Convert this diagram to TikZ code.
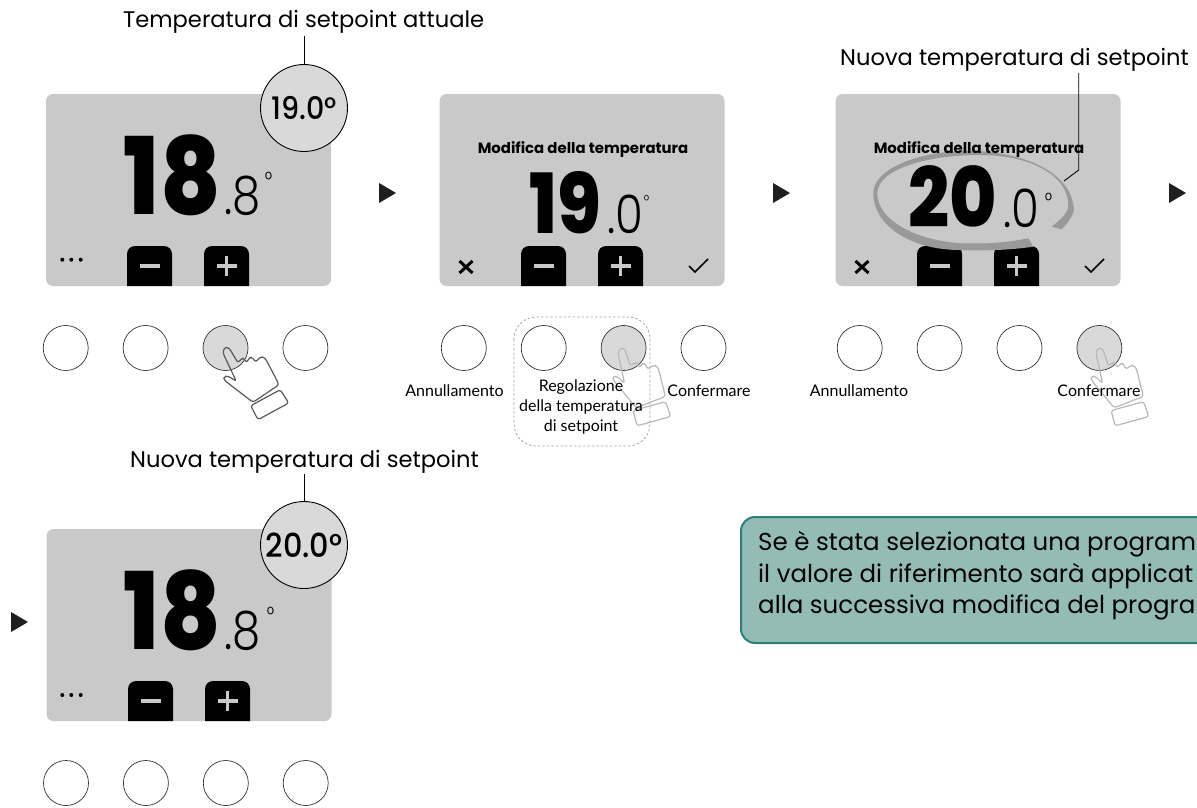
\documentclass[tikz,border=0pt]{standalone}
\usepackage{fontspec}
\setmainfont{Poppins}
\newfontfamily\labelfont{Lato}
\newfontfamily\lightfont{Poppins}[UprightFont=* Light, FakeStretch=0.85]
\newfontfamily\blackfont{Poppins}[UprightFont=* ExtraBold, FakeStretch=0.87]
\newfontfamily\bubblefont{Poppins}[UprightFont=* Medium, FakeStretch=0.92]
\usetikzlibrary{positioning}
\definecolor{screengray}{HTML}{C9C9C9}
\definecolor{pressgray}{HTML}{D9D9D9}
\definecolor{swooshgray}{HTML}{999999}
\definecolor{notefill}{HTML}{93BCB6}
\definecolor{noteline}{HTML}{2E7F74}
\tikzset{x=1pt, y=-1pt, % One unit is one pixel of the page, y runs down
node distance=34.9pt, % Gap between two neighbouring keys
keyring/.style={ % The round keys below each screen
circle, draw=black!80, line width=0.7pt, minimum size=45pt, inner sep=0pt, outer sep=0pt},
pressed/.style={fill=pressgray},
screen/.style={ % The grey display
fill=screengray, rounded corners=7pt, minimum width=285pt, minimum height=192pt, inner sep=0pt},
bubble/.style={circle, draw=black, fill=pressgray, line width=0.9pt, minimum size=87pt, inner sep=0pt, text depth=0pt},
caption/.style={anchor=base west, inner sep=0pt, font=\fontsize{22.6}{22.6}\selectfont},
title/.style={anchor=base, inner sep=0pt, font=\bfseries\fontsize{14.9}{14.9}\selectfont},
small/.style={inner sep=0pt, align=center, font=\labelfont\fontsize{16}{20}\selectfont},
bignum/.style={anchor=base east, inner sep=0pt, font=\blackfont\fontsize{107}{107}\selectfont},
midnum/.style={anchor=base east, inner sep=0pt, font=\blackfont\fontsize{83}{83}\selectfont},
lightnum/.style={anchor=base west, inner sep=0pt, font=\lightfont\fontsize{53}{53}\selectfont},
leader/.style={draw=black, line width=0.9pt},
next/.style={fill=black!88},
softkey/.pic={ % Drawn from its lower left corner
\fill (0,0) -- (0,-32) arc[start angle=180, end angle=270, radius=8] -- (37,-40) arc[start angle=270, end angle=360, radius=8] -- (45,0) -- cycle;
\fill[screengray] (12.5,-21.8) rectangle (32.5,-18.2);
},
plusbar/.pic={\fill[screengray] (-1.8,-10) rectangle (1.8,10);},
hand/.pic={ % Drawn from the tip of the finger
\draw[pic actions, line width=1.2pt, rounded corners=2.5pt, line join=round]
(-4,5) -- (-3,0) -- (1,-1) -- (4,3) -- (11,15) -- (14,11) -- (17,10) -- (19.5,15) -- (22,10) -- (25,9) -- (28.7,14.3) -- (33,9) -- (37,9) -- (40,13.3) -- (52,36.7) -- (26,54.3) -- (-3,32) -- (-3,28.5) -- (1,28) -- (9.3,33.3) -- cycle;
\draw[pic actions, line width=1.2pt, rounded corners=2.5pt]
(23.7,57.7) -- (53.3,41.7) -- (61.7,55) -- (31,71.7) -- cycle;
}}

\begin{document}
\begin{tikzpicture}
    \useasboundingbox (0,0) rectangle (1197,808);
    % Screens
    \node[screen] (s1) at (188.5,190) {};
    \node[screen] (s2) at (582,190) {};
    \node[screen] (s3) at (978,190) {};
    \node[screen] (s4) at (189,625) {};
    % Soft keys
    \foreach \sx/\sy in {127/286,204/286,521/286,598/286,917/286,994/286,128/721,205/721}
        \pic at (\sx,\sy) {softkey};
    \foreach \px/\py in {226.5/266,620.5/266,1016.5/266,227.5/701}
        \pic at (\px,\py) {plusbar};
    % Keys
    \node[keyring] (k1a) at (65.7,348) {};
    \node[keyring, right=of k1a] (k1b) {};
    \node[keyring, pressed, right=of k1b] (k1c) {};
    \node[keyring, right=of k1c] (k1d) {};
    \node[keyring] (k2a) at (463.8,348) {};
    \node[keyring, right=of k2a] (k2b) {};
    \node[keyring, pressed, right=of k2b] (k2c) {};
    \node[keyring, right=of k2c] (k2d) {};
    \node[keyring] (k3a) at (859.7,348) {};
    \node[keyring, right=of k3a] (k3b) {};
    \node[keyring, right=of k3b] (k3c) {};
    \node[keyring, pressed, right=of k3c] (k3d) {};
    \node[keyring] (k4a) at (66,783) {};
    \node[keyring, right=of k4a] (k4b) {};
    \node[keyring, right=of k4b] (k4c) {};
    \node[keyring, right=of k4c] (k4d) {};
    % Hands
    \pic[draw=black!65] at (227,348) {hand};
    \pic[draw=black!28, rotate=-13] at (623,349) {hand};
    \pic[draw=black!28, rotate=-13] at (1101,349) {hand};
    % Dashed group
    \draw[draw=black!35, dash pattern=on 2.5pt off 2pt, line width=0.8pt, rounded corners=22pt] (514,317) rectangle (650,446);
    % Screen one
    \node[bignum] (n1) at (221,214) {18};
    \node[lightnum, right=3.5pt of n1.base east, anchor=base west] (d1) {.8};
    \node[inner sep=0pt, font=\lightfont\fontsize{22}{22}\selectfont, anchor=north] (g1) at (268.5,172) {°};
    \foreach \dx in {62.3,71.3,80.7} \fill (\dx,259.7) circle (2);
    % Screen two
    \node[title] (t2) at (583,153) {Modifica della temperatura};
    \node[midnum] (n2) at (601.5,233) {19};
    \node[lightnum, right=6pt of n2.base east, anchor=base west] (d2) {.0};
    \node[inner sep=0pt, font=\lightfont\fontsize{16}{16}\selectfont, anchor=north] (g2) at (646.5,195) {°};
    % Screen three
    \fill[swooshgray] (1061.7,229.3) .. controls (1070,220) and (1076,212) .. (1073.3,205) .. controls (1068,170) and (1020,150.7) .. (965,150.7) .. controls (915,152) and (873.3,170) .. (873.3,193.3) .. controls (873.3,225) and (910,250) .. (960,250) .. controls (985,251) and (1010,250) .. (1033.3,246.7) -- (1028.3,238.3) .. controls (1005,243) and (985,244) .. (960,243.3) .. controls (915,240) and (877.3,220) .. (877.3,193.3) .. controls (877.3,170) and (925,155) .. (980,155) .. controls (1030,155) and (1068,175) .. (1068.3,205) .. controls (1068.5,213) and (1060,220) .. (1051.7,226.7) -- cycle;
    \node[title] (t3) at (979,153) {Modifica della temperatura};
    \node[midnum] (n3) at (997,227) {20};
    \node[lightnum, right=6pt of n3.base east, anchor=base west] (d3) {.0};
    \node[inner sep=0pt, font=\lightfont\fontsize{22}{22}\selectfont, anchor=north] (g3) at (1048.5,193) {°};
    % Screen four
    \node[bignum] (n4) at (221,649) {18};
    \node[lightnum, right=3.5pt of n4.base east, anchor=base west] (d4) {.8};
    \node[inner sep=0pt, font=\lightfont\fontsize{22}{22}\selectfont, anchor=north] (g4) at (270.5,607) {°};
    \foreach \dx in {62.3,71.3,80.7} \fill (\dx,695) circle (2);
    % Cross and tick
    \foreach \cx in {466,862} {
        \draw[line width=3pt] (\cx-6.5,261) -- (\cx+6.5,273);
        \draw[line width=3pt] (\cx-6.5,273) -- (\cx+6.5,261);
    }
    \foreach \tx in {698,1094}
        \draw[line width=1.5pt] (\tx-9,266) -- (\tx-3,272) -- (\tx+10,259);
    % Bubbles
    \node[bubble, font=\bubblefont\fontsize{31}{31}\selectfont] (b1) at (304,108) {19.0°};
    \node[bubble, font=\bubblefont\fontsize{33}{33}\selectfont] (b4) at (304,545) {20.0°};
    % Captions
    \node[caption] (c1) at (123,28) {Temperatura di setpoint attuale};
    \node[caption] (c3) at (840,66) {Nuova temperatura di setpoint};
    \node[caption] (c4) at (130,467) {Nuova temperatura di setpoint};
    \coordinate (p1) at (304,36);
    \coordinate (p3) at (1078.7,73);
    \coordinate (q3) at (1078.7,170);
    \coordinate (r3) at (1064,181);
    \coordinate (p4) at (304,474);
    \draw[leader] (p1) -- (b1);
    \draw[leader] (p4) -- (b4);
    \draw[leader] (p3) -- (q3) -- (r3);
    % Key labels
    \node[small] (l2a) at (454.5,391) {Annullamento};
    \node[small, anchor=north] (l2b) at (581,380) {Regolazione\\della temperatura\\di setpoint};
    \node[small] (l2d) at (709,391) {Confermare};
    \node[small] (l3a) at (859,391) {Annullamento};
    \node[small] (l3d) at (1099,391) {Confermare};
    % Arrows
    \fill[next] (379,183) -- (396,193) -- (379,203) -- cycle;
    \fill[next] (773,183) -- (790,193) -- (773,203) -- cycle;
    \fill[next] (1169,183) -- (1186,193) -- (1169,203) -- cycle;
    \fill[next] (11,612) -- (28,622) -- (11,632) -- cycle;
    % Note
    \node[draw=noteline, fill=notefill, line width=2pt, rounded corners=14pt, anchor=north west, minimum width=520pt, minimum height=126pt] (note) at (740,516) {};
    \node[anchor=north west, inner sep=0pt, align=left, font=\fontsize{24.5}{31.7}\selectfont] (notetext) at (758,531) {Se è stata selezionata una program\\il valore di riferimento sarà applicat\\alla successiva modifica del progra};
\end{tikzpicture}
\end{document}
